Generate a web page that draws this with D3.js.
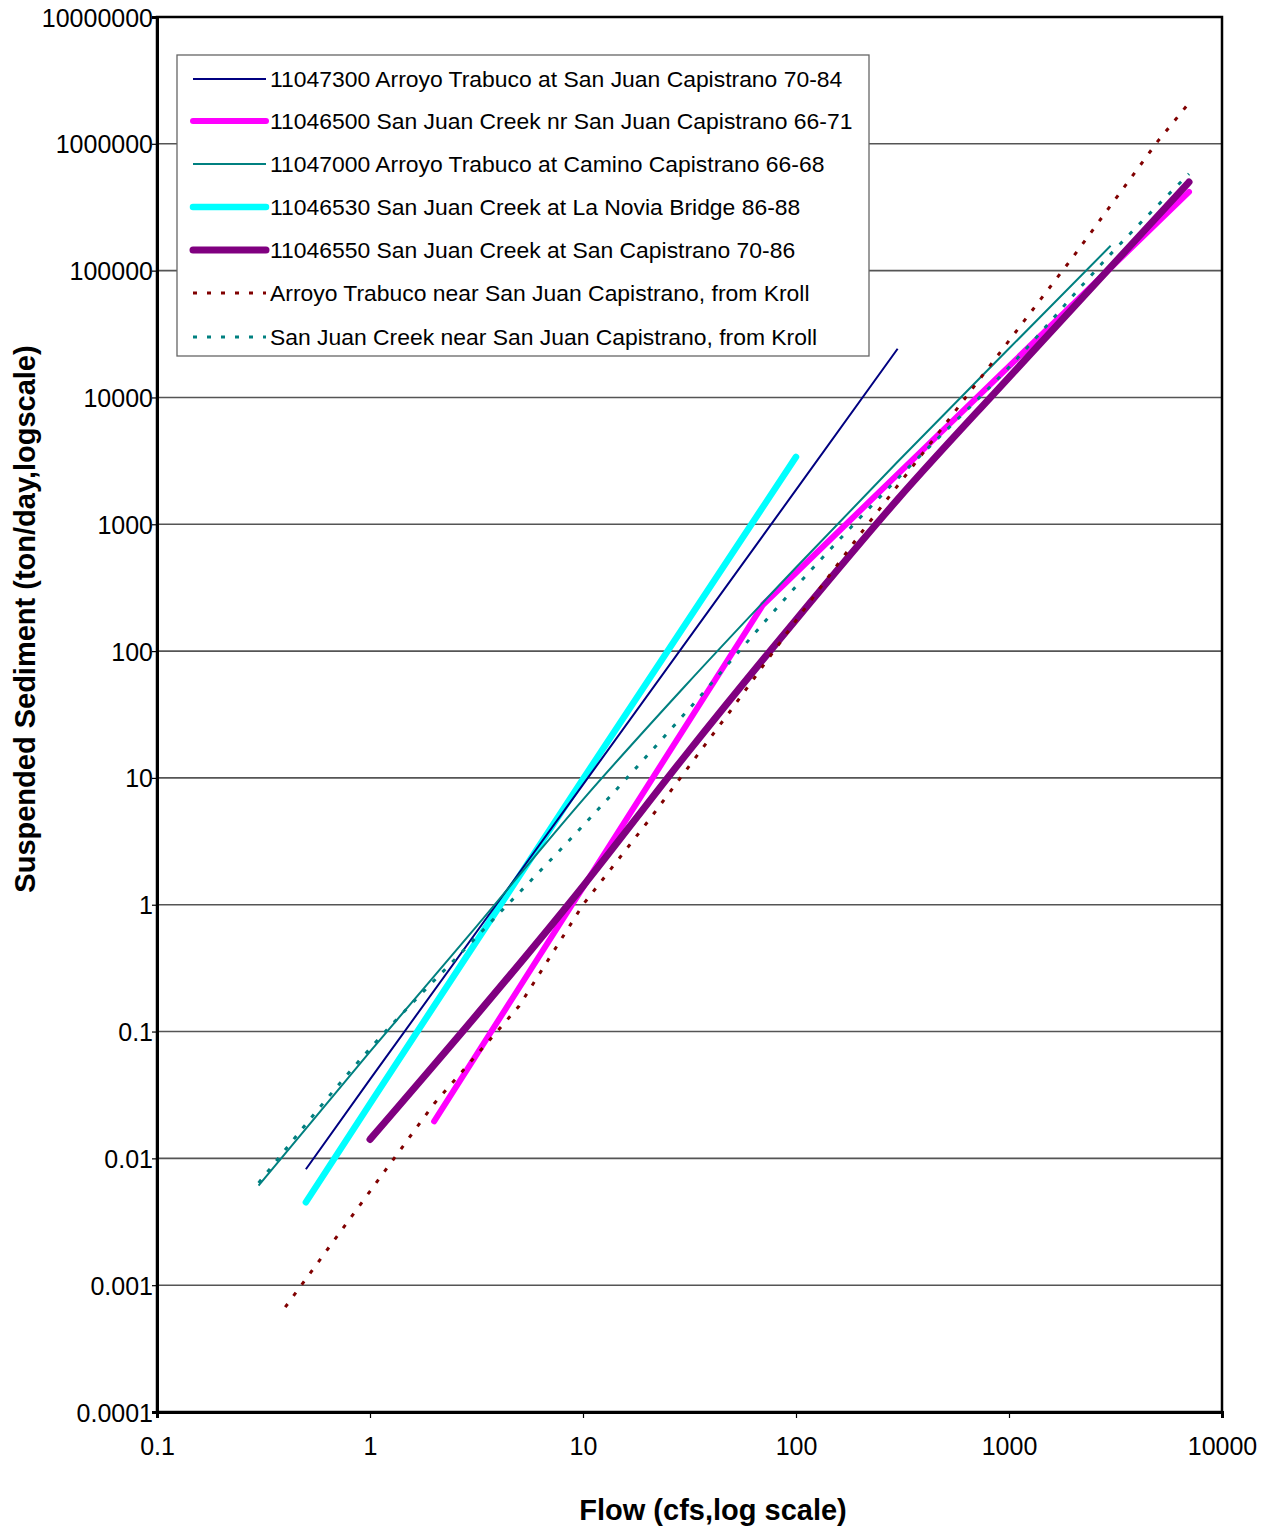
<!DOCTYPE html>
<html>
<head>
<meta charset="utf-8">
<script src="https://cdn.jsdelivr.net/npm/d3@7"></script>
<style>
  html, body { margin: 0; padding: 0; background: #fff; }
  svg { display: block; font-family: "Liberation Sans", Arial, sans-serif; }
</style>
</head>
<body>
<svg id="chart" width="1268" height="1529"></svg>
<script>
// ---------------- data ----------------
const seriesNames = [
  "11047300 Arroyo Trabuco at San Juan Capistrano 70-84",
  "11046500 San Juan Creek nr San Juan Capistrano 66-71",
  "11047000 Arroyo Trabuco at Camino Capistrano 66-68",
  "11046530 San Juan Creek at La Novia Bridge 86-88",
  "11046550 San Juan Creek at San Capistrano 70-86",
  "Arroyo Trabuco near San Juan Capistrano, from Kroll",
  "San Juan Creek near San Juan Capistrano, from Kroll"
];

const flow11047300 = [0.5, 1, 10, 100, 300];
const sed11047300  = [0.0082, 0.042, 8.85, 1866, 24200];

const flow11046500 = [2, 10, 70, 7000];
const sed11046500  = [0.0196, 1.37, 232, 418000];

const flow11047000 = [0.3, 1, 3, 10, 30, 100, 300, 1000, 3000];
const sed11047000  = [0.0061, 0.0695, 0.607, 6.75, 52.6, 456, 3110, 24300, 157000];

const flow11046530 = [0.5, 1, 10, 100];
const sed11046530  = [0.0045, 0.027, 9.8, 3400];

const flow11046550 = [1, 10, 30, 100, 300, 1000, 7000];
const sed11046550  = [0.0141, 1.4, 14.8, 177, 1570, 14400, 500000];

const flowKrollTrabuco = [0.4, 1, 2, 5, 10, 20, 50, 100, 200, 500, 1000, 2000, 5000, 7000];
const sedKrollTrabuco  = [0.00067, 0.0055, 0.027, 0.158, 1.0, 4.45, 35, 174, 835, 6100, 28000, 128500, 1050000, 2100000];

const flowKrollSanJuan = [0.3, 1, 3, 10, 30, 100, 300, 1000, 3000, 7000];
const sedKrollSanJuan  = [0.0064, 0.0735, 0.508, 4.2, 32, 323, 2290, 17300, 135000, 580000];

const xTickValues = [0.1, 1, 10, 100, 1000, 10000];
const xTickLabels = ["0.1", "1", "10", "100", "1000", "10000"];
const yTickValues = [0.0001, 0.001, 0.01, 0.1, 1, 10, 100, 1000, 10000, 100000, 1000000, 10000000];
const yTickLabels = ["0.0001", "0.001", "0.01", "0.1", "1", "10", "100", "1000", "10000", "100000", "1000000", "10000000"];

const xTitle = "Flow (cfs,log scale)";
const yTitle = "Suspended Sediment (ton/day,logscale)";

// ---------------- styles ----------------
const styles = [
  { color: "#000080", width: 2,   dash: null,   cap: "butt",  smooth: false },
  { color: "#FF00FF", width: 6,   dash: null,   cap: "round", smooth: false },
  { color: "#008080", width: 2,   dash: null,   cap: "butt",  smooth: true },
  { color: "#00FFFF", width: 6.5, dash: null,   cap: "round", smooth: false },
  { color: "#800080", width: 7,   dash: null,   cap: "round", smooth: true },
  { color: "#800000", width: 3,   dash: "4,10", cap: "butt",  smooth: false },
  { color: "#008080", width: 3,   dash: "4,10", cap: "butt",  smooth: true }
];

const seriesData = [
  [flow11047300, sed11047300],
  [flow11046500, sed11046500],
  [flow11047000, sed11047000],
  [flow11046530, sed11046530],
  [flow11046550, sed11046550],
  [flowKrollTrabuco, sedKrollTrabuco],
  [flowKrollSanJuan, sedKrollSanJuan]
];

// ---------------- layout ----------------
const L = 157, R = 1222, T = 17, B = 1412;
const svg = d3.select("#chart");

const x = d3.scaleLog().domain([0.1, 10000]).range([L, R]);
const y = d3.scaleLog().domain([0.0001, 10000000]).range([B, T]);

// gridlines
svg.append("g")
  .selectAll("line")
  .data(yTickValues.slice(1, -1))
  .join("line")
  .attr("x1", L).attr("x2", R)
  .attr("y1", d => y(d)).attr("y2", d => y(d))
  .attr("stroke", "#555").attr("stroke-width", 1.6);

// series
const drawOrder = [3, 1, 4, 0, 2, 5, 6];
const plotG = svg.append("g");
drawOrder.forEach(i => {
  const [fx, fy] = seriesData[i];
  const pts = fx.map((v, k) => [v, fy[k]]);
  const st = styles[i];
  const line = d3.line().x(d => x(d[0])).y(d => y(d[1]))
    .curve(st.smooth ? d3.curveMonotoneX : d3.curveLinear);
  plotG.append("path")
    .attr("d", line(pts))
    .attr("fill", "none")
    .attr("stroke", st.color)
    .attr("stroke-width", st.width)
    .attr("stroke-linecap", st.cap)
    .attr("stroke-linejoin", "round")
    .attr("stroke-dasharray", st.dash);
});

// frame
svg.append("rect")
  .attr("x", L).attr("y", T).attr("width", R - L).attr("height", B - T)
  .attr("fill", "none").attr("stroke", "#000").attr("stroke-width", 2.5);

// axes
const yAxis = d3.axisLeft(y)
  .tickValues(yTickValues)
  .tickFormat((d, i) => yTickLabels[i])
  .tickSize(5).tickPadding(0);
const gy = svg.append("g").attr("transform", `translate(${L},0)`).call(yAxis);
gy.select(".domain").attr("stroke", "#000").attr("stroke-width", 3);
gy.selectAll(".tick line").attr("stroke", "#000").attr("stroke-width", 1.2);
gy.selectAll(".tick text")
  .attr("font-family", "Liberation Sans, Arial, sans-serif")
  .attr("font-size", 25).attr("fill", "#000").attr("x", -4).attr("dy", "0.36em");

const xAxis = d3.axisBottom(x)
  .tickValues(xTickValues)
  .tickFormat((d, i) => xTickLabels[i])
  .tickSize(6).tickPadding(0);
const gx = svg.append("g").attr("transform", `translate(0,${B})`).call(xAxis);
gx.select(".domain").attr("stroke", "#000").attr("stroke-width", 3);
gx.selectAll(".tick line").attr("stroke", "#000").attr("stroke-width", 1.2);
gx.selectAll(".tick text")
  .attr("font-family", "Liberation Sans, Arial, sans-serif")
  .attr("font-size", 25).attr("fill", "#000").attr("y", 43).attr("dy", 0);

// titles
svg.append("text")
  .attr("x", 713).attr("y", 1520)
  .attr("text-anchor", "middle")
  .attr("font-size", 29).attr("font-weight", "bold")
  .text(xTitle);

svg.append("text")
  .attr("transform", "translate(35,619) rotate(-90)")
  .attr("text-anchor", "middle")
  .attr("font-size", 29).attr("font-weight", "bold")
  .text(yTitle);

// legend
const lg = svg.append("g");
lg.append("rect")
  .attr("x", 177).attr("y", 55).attr("width", 692).attr("height", 301)
  .attr("fill", "#fff").attr("stroke", "#666").attr("stroke-width", 1.3);
const legendY = [79, 121, 164, 207, 250, 293, 337];
seriesNames.forEach((name, i) => {
  const st = styles[i];
  const yy = legendY[i];
  lg.append("line")
    .attr("x1", 193).attr("x2", 266)
    .attr("y1", yy).attr("y2", yy)
    .attr("stroke", st.color).attr("stroke-width", st.width)
    .attr("stroke-linecap", st.cap)
    .attr("stroke-dasharray", st.dash);
  lg.append("text")
    .attr("x", 270).attr("y", yy + 8)
    .attr("font-size", 22.9).attr("fill", "#000")
    .text(name);
});
</script>
</body>
</html>
